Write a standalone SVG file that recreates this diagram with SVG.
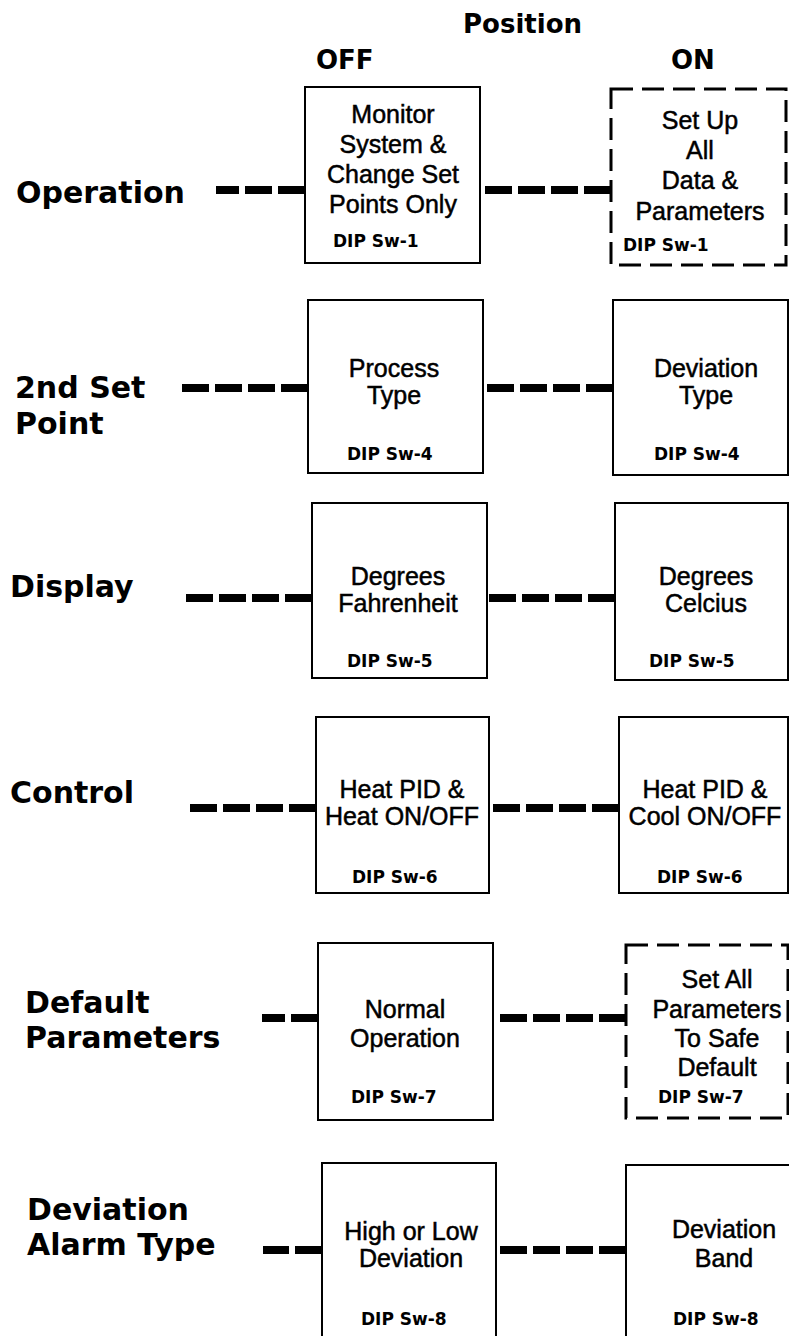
<svg xmlns="http://www.w3.org/2000/svg" width="789" height="1336" viewBox="0 0 789 1336">
<style>
.lbl{font-family:"DejaVu Sans","Liberation Sans",sans-serif;font-weight:bold;font-size:30px;fill:#000}
.hdr{font-family:"DejaVu Sans","Liberation Sans",sans-serif;font-weight:bold;font-size:26px;fill:#000}
.bt{font-family:"Liberation Sans",Arial,sans-serif;font-size:25px;text-anchor:middle;fill:#000;stroke:#000;stroke-width:0.5}
.dip{font-family:"DejaVu Sans","Liberation Sans",sans-serif;font-weight:bold;font-size:17px;fill:#000}
.box{fill:#fff;stroke:#000;stroke-width:2}
.dbox{fill:#fff;stroke:#000;stroke-width:3;stroke-dasharray:22 9}
.conn{stroke:#000;stroke-width:8;stroke-dasharray:27 6;fill:none}
</style>
<rect width="789" height="1336" fill="#fff"/>
<g id="headers">
<text class="hdr" x="463" y="33">Position</text>
<text class="hdr" x="316" y="69" font-size="27">OFF</text>
<text class="hdr" x="671" y="69" font-size="27">ON</text>
</g>
<g id="row-labels">
<text class="lbl" x="16" y="203">Operation</text>
<text class="lbl" x="15" y="398">2nd Set</text>
<text class="lbl" x="15" y="434">Point</text>
<text class="lbl" x="10" y="597">Display</text>
<text class="lbl" x="10" y="803">Control</text>
<text class="lbl" x="25" y="1013">Default</text>
<text class="lbl" x="25" y="1048">Parameters</text>
<text class="lbl" x="27" y="1220">Deviation</text>
<text class="lbl" x="27" y="1255">Alarm Type</text>
</g>
<g id="connectors">
<line class="conn" x1="305" y1="190" x2="216" y2="190"/>
<line class="conn" x1="611" y1="190" x2="479" y2="190"/>
<line class="conn" x1="308" y1="388" x2="176" y2="388"/>
<line class="conn" x1="613" y1="388" x2="483" y2="388"/>
<line class="conn" x1="312" y1="598" x2="183" y2="598"/>
<line class="conn" x1="615" y1="598" x2="487" y2="598"/>
<line class="conn" x1="316" y1="808" x2="187" y2="808"/>
<line class="conn" x1="619" y1="808" x2="489" y2="808"/>
<line class="conn" x1="318" y1="1018" x2="262" y2="1018"/>
<line class="conn" x1="626" y1="1018" x2="493" y2="1018"/>
<line class="conn" x1="322" y1="1250" x2="263" y2="1250"/>
<line class="conn" x1="626" y1="1250" x2="496" y2="1250"/>
</g>
<g id="op-off">
<rect class="box" x="305" y="87" width="175" height="176"/>
<text class="bt" x="393" y="123">Monitor</text>
<text class="bt" x="393" y="153">System &amp;</text>
<text class="bt" x="393" y="183">Change Set</text>
<text class="bt" x="393" y="213">Points Only</text>
<text class="dip" x="333" y="247">DIP Sw-1</text>
</g>
<g id="op-on">
<rect class="dbox" x="611" y="89" width="175" height="176"/>
<text class="bt" x="700" y="129">Set Up</text>
<text class="bt" x="700" y="159">All</text>
<text class="bt" x="700" y="189">Data &amp;</text>
<text class="bt" x="700" y="220">Parameters</text>
<text class="dip" x="623" y="251">DIP Sw-1</text>
</g>
<g id="sp2-off">
<rect class="box" x="308" y="300" width="175" height="173"/>
<text class="bt" x="394" y="377">Process</text>
<text class="bt" x="394" y="404">Type</text>
<text class="dip" x="347" y="460">DIP Sw-4</text>
</g>
<g id="sp2-on">
<rect class="box" x="613" y="300" width="175" height="175"/>
<text class="bt" x="706" y="377">Deviation</text>
<text class="bt" x="706" y="404">Type</text>
<text class="dip" x="654" y="460">DIP Sw-4</text>
</g>
<g id="disp-off">
<rect class="box" x="312" y="503" width="175" height="175"/>
<text class="bt" x="398" y="585">Degrees</text>
<text class="bt" x="398" y="612">Fahrenheit</text>
<text class="dip" x="347" y="667">DIP Sw-5</text>
</g>
<g id="disp-on">
<rect class="box" x="615" y="503" width="173" height="177"/>
<text class="bt" x="706" y="585">Degrees</text>
<text class="bt" x="706" y="612">Celcius</text>
<text class="dip" x="649" y="667">DIP Sw-5</text>
</g>
<g id="ctl-off">
<rect class="box" x="316" y="717" width="173" height="176"/>
<text class="bt" x="402" y="798">Heat PID &amp;</text>
<text class="bt" x="402" y="825">Heat ON/OFF</text>
<text class="dip" x="352" y="883">DIP Sw-6</text>
</g>
<g id="ctl-on">
<rect class="box" x="619" y="717" width="169" height="176"/>
<text class="bt" x="705" y="798">Heat PID &amp;</text>
<text class="bt" x="705" y="825">Cool ON/OFF</text>
<text class="dip" x="657" y="883">DIP Sw-6</text>
</g>
<g id="def-off">
<rect class="box" x="318" y="943" width="175" height="177"/>
<text class="bt" x="405" y="1018">Normal</text>
<text class="bt" x="405" y="1047">Operation</text>
<text class="dip" x="351" y="1103">DIP Sw-7</text>
</g>
<g id="def-on">
<rect class="dbox" x="626" y="945" width="162" height="173"/>
<text class="bt" x="717" y="988">Set All</text>
<text class="bt" x="717" y="1018">Parameters</text>
<text class="bt" x="717" y="1047">To Safe</text>
<text class="bt" x="717" y="1076">Default</text>
<text class="dip" x="658" y="1103">DIP Sw-7</text>
</g>
<g id="dev-off">
<rect class="box" x="322" y="1163" width="174" height="190"/>
<text class="bt" x="411" y="1240">High or Low</text>
<text class="bt" x="411" y="1267">Deviation</text>
<text class="dip" x="361" y="1325">DIP Sw-8</text>
</g>
<g id="dev-on">
<rect class="box" x="626" y="1165" width="180" height="190"/>
<text class="bt" x="724" y="1238">Deviation</text>
<text class="bt" x="724" y="1267">Band</text>
<text class="dip" x="673" y="1325">DIP Sw-8</text>
</g>
</svg>
